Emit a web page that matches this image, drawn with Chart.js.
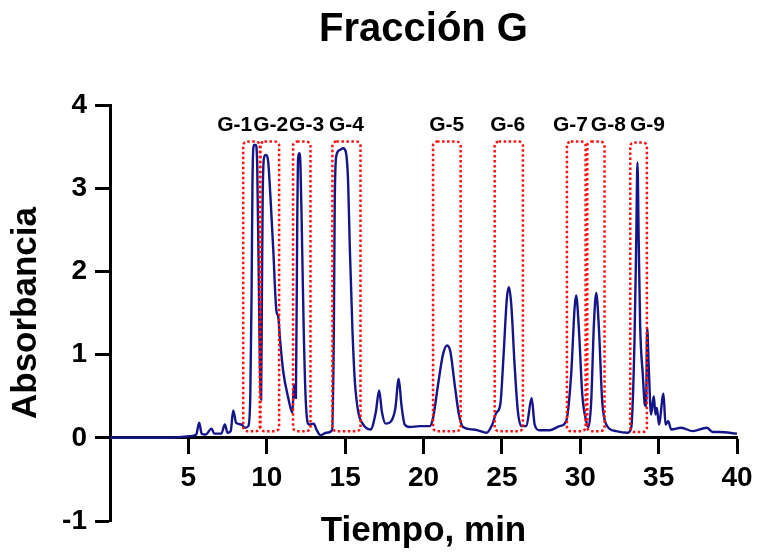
<!DOCTYPE html>
<html>
<head>
<meta charset="utf-8">
<script src="https://cdn.jsdelivr.net/npm/chart.js@4.4.1/dist/chart.umd.min.js"></script>
<style>
  body { margin: 0; background: #fff; }
</style>
</head>
<body>
<canvas id="chart" width="759" height="552"></canvas>
<script>
// chromatogram trace (minutes / absorbance)
const time = [0, 4.0, 4.5, 5.1, 5.5, 5.69, 5.85, 6.1, 6.48, 6.65, 7.1, 7.33, 7.5, 7.7, 7.86, 8.05, 8.39, 8.6, 8.82,
  8.95, 9.03, 9.09, 9.18, 9.3, 9.39, 9.48, 9.56, 9.64, 9.69, 9.74, 9.82, 9.94, 10.09, 10.24, 10.41, 10.62, 10.73,
  10.84, 11.05, 11.37, 11.64, 11.73, 11.8, 11.86, 11.94, 12.0, 12.07, 12.15, 12.24, 12.36, 12.5, 12.7, 13.0, 13.17,
  13.43, 13.81, 14.17, 14.28, 14.34, 14.45, 14.66, 14.87, 15.04, 15.19, 15.3, 15.47, 15.62, 15.83, 16.15, 16.62,
  16.95, 17.17, 17.34, 17.59, 17.89, 18.2, 18.42, 18.59, 18.8, 19.12, 19.76, 20.4, 20.61, 20.93, 21.24, 21.5, 21.71,
  21.99, 22.26, 22.52, 23.15, 23.47, 24.01, 24.39, 24.64, 24.9, 25.11, 25.32, 25.45, 25.6, 25.81, 26.02, 26.24,
  26.56, 26.9, 27.09, 27.4, 28.04, 28.68, 29.1, 29.42, 29.64, 29.74, 29.91, 30.13, 30.38, 30.53, 30.7, 30.87, 31.02,
  31.19, 31.4, 31.66, 32.29, 33.03, 33.25, 33.46, 33.57, 33.65, 33.73, 33.82, 33.99, 34.12, 34.2, 34.27, 34.37,
  34.52, 34.69, 34.8, 34.89, 35.02, 35.31, 35.44, 35.61, 35.8, 36.44, 37.18, 38.07, 38.45, 38.88, 40];
const absorbance = [0, 0, 0.01, 0.02, 0.04, 0.18, 0.05, 0.04, 0.11, 0.05, 0.05, 0.16, 0.06, 0.08, 0.33, 0.18, 0.16, 0.12, 0.14,
  0.5, 1.68, 3.08, 3.52, 3.52, 3.28, 2.08, 0.89, 0.46, 1.68, 2.88, 3.36, 3.40, 3.32, 2.88, 2.28, 1.52, 1.46,
  1.2, 0.8, 0.48, 0.3, 0.64, 0.5, 0.48, 2.48, 3.36, 3.42, 3.28, 2.48, 1.28, 0.4, 0.16, 0.17, 0.10,
  0.03, 0.06, 0.09, 1.28, 2.88, 3.40, 3.46, 3.48, 3.44, 3.08, 2.28, 1.28, 0.68, 0.32, 0.16, 0.10,
  0.3, 0.57, 0.32, 0.17, 0.19, 0.35, 0.71, 0.40, 0.16, 0.13, 0.14, 0.14, 0.24, 0.64, 1.0, 1.11, 1.04,
  0.64, 0.28, 0.13, 0.10, 0.09, 0.06, 0.16, 0.30, 0.40, 1.0, 1.68, 1.81, 1.60, 0.88, 0.32, 0.14,
  0.14, 0.48, 0.16, 0.09, 0.09, 0.14, 0.20, 0.76, 1.56, 1.71, 1.32, 0.52, 0.2, 0.13, 0.44, 1.36, 1.74,
  1.32, 0.44, 0.16, 0.08, 0.06, 0.12, 1.16, 2.36, 3.31, 2.36, 1.36, 0.76, 0.40, 0.38, 1.32, 0.84,
  0.28, 0.50, 0.28, 0.36, 0.16, 0.53, 0.16, 0.20, 0.10, 0.12, 0.08, 0.12, 0.07, 0.07, 0.05];

// collected fractions
const fractionNames = ['G-1', 'G-2', 'G-3', 'G-4', 'G-5', 'G-6', 'G-7', 'G-8', 'G-9'];
const fractionStart = [8.50, 9.60, 11.68, 14.19, 20.61, 24.54, 29.15, 30.45, 33.19];
const fractionEnd = [9.56, 10.79, 12.79, 15.98, 22.37, 26.34, 30.34, 31.55, 34.25];
const fractionTop = [3.56, 3.56, 3.56, 3.56, 3.56, 3.56, 3.56, 3.56, 3.55];
const fractionBottom = [0.08, 0.08, 0.08, 0.08, 0.08, 0.08, 0.08, 0.08, 0.07];
const labelTime = [7.96, 10.25, 12.54, 15.09, 21.48, 25.37, 29.38, 31.79, 34.29];
const labelLevel = 3.76;

const FONT = '"Liberation Sans", Arial, sans-serif';

const fractionBoxes = {
  id: 'fractionBoxes',
  afterDatasetsDraw(chart) {
    const { ctx, scales: { x, y } } = chart;
    ctx.save();
    ctx.strokeStyle = '#ff1111';
    ctx.lineWidth = 2.5;
    ctx.setLineDash([2.5, 2.5]);
    fractionNames.forEach((name, i) => {
      const left = x.getPixelForValue(fractionStart[i]);
      const right = x.getPixelForValue(fractionEnd[i]);
      const top = y.getPixelForValue(fractionTop[i]);
      const bottom = y.getPixelForValue(fractionBottom[i]);
      ctx.beginPath();
      ctx.roundRect(left, top, right - left, bottom - top, 4);
      ctx.stroke();
    });
    ctx.setLineDash([]);
    ctx.fillStyle = '#000';
    ctx.font = 'bold 21px ' + FONT;
    ctx.textAlign = 'center';
    ctx.textBaseline = 'middle';
    fractionNames.forEach((name, i) => {
      ctx.fillText(name, x.getPixelForValue(labelTime[i]), y.getPixelForValue(labelLevel));
    });
    ctx.restore();
  }
};

// let the layout padding alone decide where the plot area sits
function noLabelPadding(scale) {
  scale.paddingLeft = 0;
  scale.paddingRight = 0;
  scale.paddingTop = 0;
  scale.paddingBottom = 0;
}

const chart = document.querySelector('#chart').getContext('2d');

new Chart(chart, {
  type: 'line',
  data: {
    datasets: [{
      data: time.map((t, i) => ({ x: t, y: absorbance[i] })),
      borderColor: '#15158a',
      borderWidth: 2.4,
      pointRadius: 0,
      cubicInterpolationMode: 'monotone',
      fill: false
    }]
  },
  options: {
    responsive: false,
    animation: false,
    layout: { padding: { left: 0, right: 22, top: 0, bottom: 31 } },
    plugins: {
      legend: { display: false },
      tooltip: { enabled: false },
      title: {
        display: true,
        fullSize: false,
        text: 'Fracción G',
        color: '#000',
        font: { family: FONT, size: 40, weight: 'bold' },
        padding: { top: 6, bottom: 51 }
      }
    },
    scales: {
      x: {
        type: 'linear',
        min: 0,
        max: 40,
        position: { y: 0 },
        ticks: {
          stepSize: 5,
          color: '#000',
          padding: 9,
          maxRotation: 0,
          font: { family: FONT, size: 28, weight: 'bold' },
          callback: v => (v === 0 ? '' : v)
        },
        grid: { drawOnChartArea: false, drawTicks: true, tickLength: 15, tickWidth: 3, tickColor: '#000' },
        border: { display: true, width: 3, color: '#000' },
        title: {
          display: true,
          text: 'Tiempo, min',
          color: '#000',
          font: { family: FONT, size: 35, weight: 'bold' },
          padding: { top: 6, bottom: 0 }
        },
        afterFit: noLabelPadding
      },
      y: {
        min: -1,
        max: 4,
        ticks: {
          stepSize: 1,
          color: '#000',
          padding: 8,
          font: { family: FONT, size: 28, weight: 'bold' }
        },
        grid: { drawOnChartArea: false, drawTicks: true, tickLength: 15, tickWidth: 3, tickColor: '#000' },
        border: { display: true, width: 3, color: '#000' },
        title: {
          display: true,
          text: 'Absorbancia',
          color: '#000',
          font: { family: FONT, size: 35, weight: 'bold' },
          padding: { top: 5, bottom: 0 }
        },
        afterFit(scale) {
          noLabelPadding(scale);
          scale.width = 110;
        }
      }
    }
  },
  plugins: [fractionBoxes]
});
</script>
</body>
</html>
